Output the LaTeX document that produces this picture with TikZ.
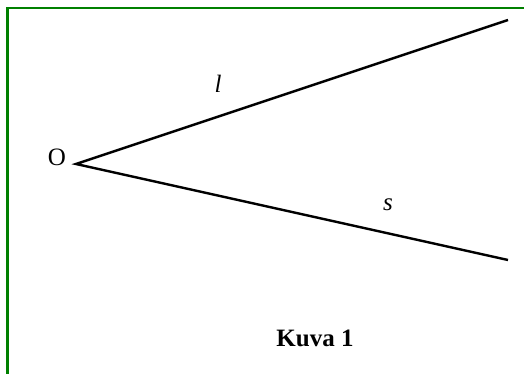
\documentclass[tikz,border=0pt]{standalone}
\usepackage{fontspec}
\setmainfont{Liberation Serif}
\definecolor{framegreen}{RGB}{0,128,0}
\begin{document}
\begin{tikzpicture}[x=1pt,y=-1pt,
  frame/.style={draw=framegreen,line width=2.2pt},
  ray/.style={draw=black,line width=2.4pt},
  lbl/.style={inner sep=0pt,font=\fontsize{25}{30}\selectfont},
  captionlbl/.style={inner sep=0pt,font=\fontsize{25}{30}\selectfont\bfseries}]
\useasboundingbox (0,0) rectangle (524,374);
\coordinate (tl) at (7.5,8);
\coordinate (tr) at (524,8);
\coordinate (bl) at (7.5,374);
\draw[frame] (tr) -- (tl) -- (bl);
\coordinate (O) at (76,164);
\coordinate (L) at (508,20);
\coordinate (S) at (508,260);
\draw[ray] (L) -- (O) -- (S);
\node[lbl] (labO) at (57,157.5) {O};
\node[lbl] (labl) at (218,84) {\itshape l};
\node[lbl] (labs) at (388,205) {\itshape s};
\node[captionlbl] (kuva) at (315,338) {Kuva 1};
\end{tikzpicture}
\end{document}
